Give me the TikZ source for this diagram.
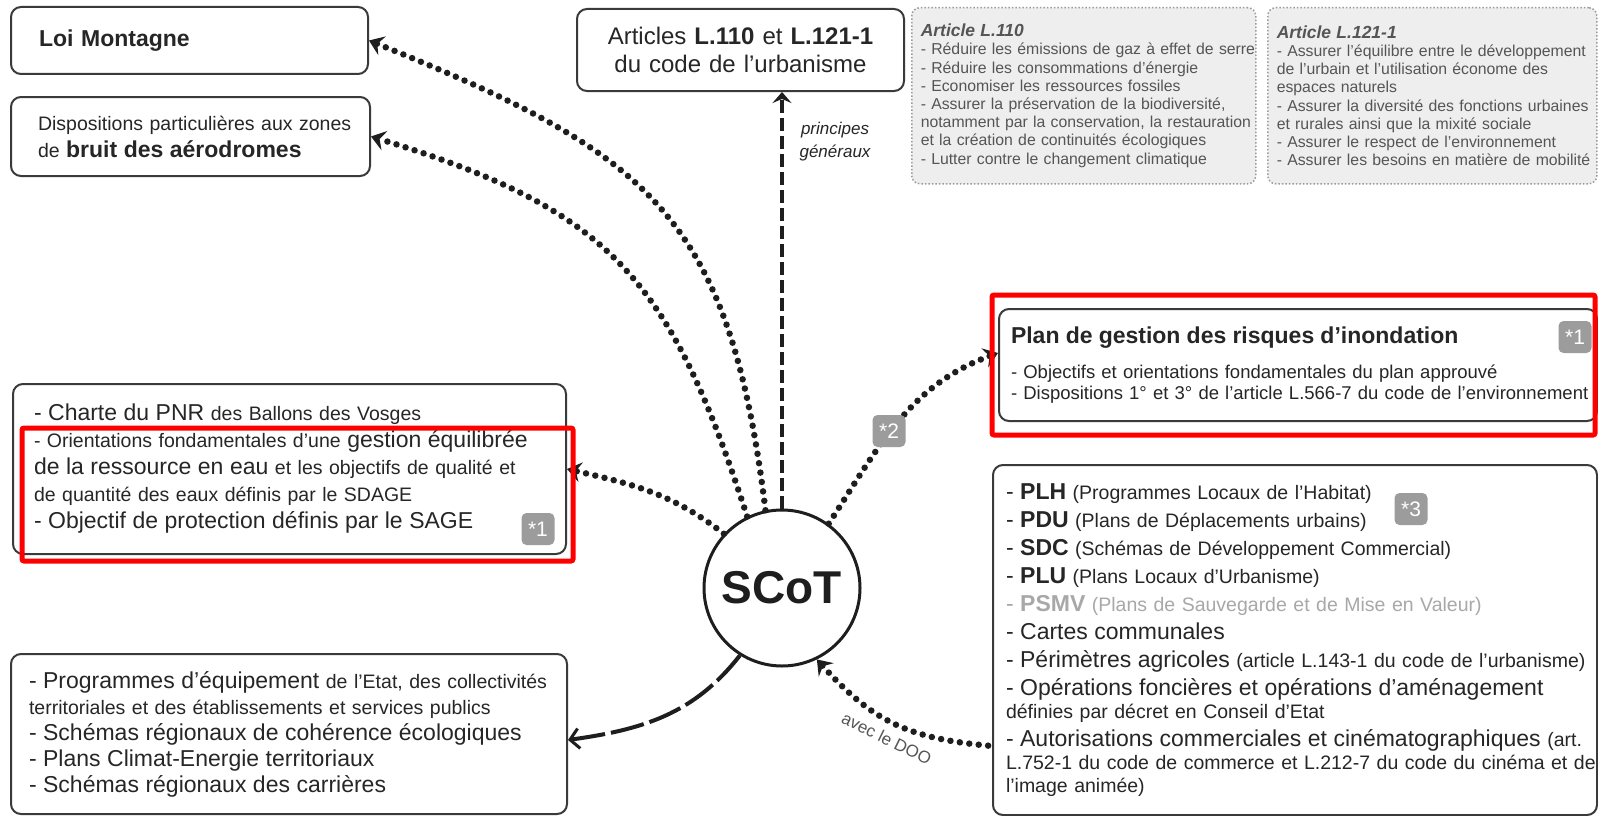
\documentclass[tikz,border=0pt]{standalone}
\usepackage{fontspec}
\setmainfont{Liberation Sans}
\usetikzlibrary{arrows.meta,positioning}

\definecolor{inkline}{HTML}{1E1E1E}
\definecolor{boxline}{HTML}{3A3A3A}
\definecolor{boxtext}{HTML}{262626}
\definecolor{notefill}{HTML}{EEEEEE}
\definecolor{noteline}{HTML}{9A9A9A}
\definecolor{notetext}{HTML}{555555}
\definecolor{badgefill}{HTML}{9C9C9C}
\definecolor{fadedtext}{HTML}{A8A8A8}
\definecolor{markred}{HTML}{FF0000}

\newcommand\szbig{\fontsize{23}{27}\selectfont}

\begin{document}
\begin{tikzpicture}[x=1pt, y=1pt,
    docbox/.style={draw=boxline, line width=2pt, rounded corners=10pt, anchor=north west, align=left, text=boxtext, inner ysep=0pt},
    notebox/.style={draw=noteline, line width=1.5pt, dash pattern=on 1.5pt off 2pt, fill=notefill, rounded corners=8pt, anchor=north west, align=left, text=notetext, inner xsep=9pt, inner ysep=0pt, font=\fontsize{15.8}{18.2}\selectfont},
    badge/.style={fill=badgefill, rounded corners=5pt, minimum width=33pt, minimum height=32pt, inner sep=0pt, text=white, font=\fontsize{21}{21}\selectfont},
    redmark/.style={draw=markred, line width=5pt, rounded corners=2pt},
    dotlink/.style={draw=inkline, line width=6.5pt, line cap=round, dash pattern=on 0pt off 9.5pt, -{Stealth[length=14pt, width=20pt, inset=5pt]}},
    dotback/.style={draw=inkline, line width=6.5pt, line cap=round, dash pattern=on 0pt off 9.5pt, {Stealth[length=14pt, width=20pt, inset=5pt]}-},
    dashlink/.style={draw=inkline, line width=4.5pt, dash pattern=on 13pt off 5pt, -{Stealth[length=11pt, width=19pt, inset=4pt]}},
    barlink/.style={draw=inkline, line width=4pt, dash pattern=on 34pt off 6pt, -{Straight Barb[length=9pt, width=20pt, line width=3pt]}}
  ]
  \path[use as bounding box, fill=white] (0,0) rectangle (1598,-816);

  % Nodes
  \node[docbox, minimum width=357pt, minimum height=67pt, inner xsep=28pt, text width=301pt, font=\fontsize{23}{26}\selectfont\bfseries] (loi) at (10,-6) {Loi Montagne};
  \node[docbox, minimum width=359pt, minimum height=79pt, inner xsep=27pt, text width=305pt, font=\fontsize{19.5}{27}\selectfont] (bruit) at (10,-96) {\mbox{Dispositions particulières aux zones}\\de {\szbig\bfseries bruit des aérodromes}};
  \node[docbox, minimum width=327pt, minimum height=82pt, inner xsep=12pt, text width=303pt, align=center, font=\fontsize{24}{28}\selectfont] (art) at (576,-8) {Articles \textbf{L.110} et \textbf{L.121-1}\\du code de l'urbanisme};

  \node[notebox, minimum width=344pt, minimum height=176pt, text width=326pt] (l110) at (911,-7) {{\fontsize{17.5}{18.2}\selectfont\bfseries\itshape Article L.110}\\\mbox{- Réduire les émissions de gaz à effet de serre}\\- Réduire les consommations d'énergie\\- Economiser les ressources fossiles\\\mbox{- Assurer la préservation de la biodiversité,}\\\mbox{notamment par la conservation, la restauration}\\\mbox{et la création de continuités écologiques}\\- Lutter contre le changement climatique};
  \node[notebox, minimum width=329pt, minimum height=176pt, text width=311pt] (l121) at (1267,-7) {{\fontsize{17.5}{18.2}\selectfont\bfseries\itshape Article L.121-1}\\\mbox{- Assurer l'équilibre entre le développement}\\\mbox{de l'urbain et l'utilisation économe des}\\espaces naturels\\\mbox{- Assurer la diversité des fonctions urbaines}\\\mbox{et rurales ainsi que la mixité sociale}\\\mbox{- Assurer le respect de l'environnement}\\\mbox{- Assurer les besoins en matière de mobilité}};

  \node[docbox, minimum width=598pt, minimum height=112pt, inner xsep=12pt, text width=574pt, font=\fontsize{18.5}{21.5}\selectfont] (pgri) at (998,-308) {{\szbig\bfseries Plan de gestion des risques d'inondation}\\[13.5pt]- Objectifs et orientations fondamentales du plan approuvé\\\mbox{- Dispositions 1° et 3° de l'article L.566-7 du code de l'environnement}};

  \node[docbox, minimum width=553pt, minimum height=170pt, inner xsep=21pt, text width=511pt, font=\fontsize{19.5}{27}\selectfont] (eau) at (12,-383) {{\szbig - Charte du PNR} des Ballons des Vosges\\\mbox{- Orientations fondamentales d'une {\szbig gestion équilibrée}}\\{\szbig de la ressource en eau} et les objectifs de qualité et\\de quantité des eaux définis par le SDAGE\\{\szbig - Objectif de protection définis par le SAGE}};

  \node[docbox, minimum width=556pt, minimum height=160pt, inner xsep=18pt, text width=520pt, font=\fontsize{19.5}{26}\selectfont] (equip) at (10,-653) {\mbox{{\szbig - Programmes d'équipement} de l'Etat, des collectivités}\\territoriales et des établissements et services publics\\{\szbig - Schémas régionaux de cohérence écologiques}\\{\szbig - Plans Climat-Energie territoriaux}\\{\szbig - Schémas régionaux des carrières}};

  \node[docbox, minimum width=604pt, minimum height=350pt, inner xsep=13pt, text width=578pt, font=\fontsize{19.5}{28}\selectfont] (plans) at (992,-464) {{\szbig - \textbf{PLH}} (Programmes Locaux de l'Habitat)\\{\szbig - \textbf{PDU}} (Plans de Déplacements urbains)\\{\szbig - \textbf{SDC}} (Schémas de Développement Commercial)\\{\szbig - \textbf{PLU}} (Plans Locaux d'Urbanisme)\\{\color{fadedtext}{\szbig - \textbf{PSMV}} (Plans de Sauvegarde et de Mise en Valeur)}\\{\szbig - Cartes communales}\\\mbox{{\szbig - Périmètres agricoles} (article L.143-1 du code de l'urbanisme)}\\{\szbig - Opérations foncières et opérations d'aménagement}\\[-5pt]définies par décret en Conseil d'Etat\\\mbox{{\szbig - Autorisations commerciales et cinématographiques} (art.}\\[-5pt]\mbox{L.752-1 du code de commerce et L.212-7 du code du cinéma et de}\\[-5pt]l'image animée)};

  \node[circle, draw=inkline, line width=3pt, minimum size=156pt, inner sep=0pt, text=inkline, font=\fontsize{46}{46}\selectfont\bfseries] (scot) at (782,-588) {SCoT};

  % Links
  \draw[dotlink] (scot.102) to[out=97, in=-22, looseness=1.25] (loi.east);
  \draw[dotlink] (scot.116) to[out=108, in=-17, looseness=1.2] (bruit.east);
  \draw[dotlink] (scot.137) to[out=142, in=-13] (eau.east);
  \draw[dashlink] (scot.north) -- (scot.north |- art.south) node[pos=0.88, right=12pt, align=center, text=boxtext, font=\fontsize{17}{23}\selectfont\itshape] (gen) {principes\\généraux};
  \draw[dotlink] (scot.54) to[out=57, in=200] ([yshift=12pt]pgri.west);
  \draw[barlink] (scot.238) to[out=232, in=8] ([yshift=-6pt]equip.east);
  \draw[dotback] (scot.296) to[out=-48, in=175, looseness=1.1] node[pos=0.5, sloped, below=4pt, text=notetext, font=\fontsize{17}{17}\selectfont] (doo) {avec le DOO} ([yshift=-106pt]plans.west);

  % Badges
  \node[badge] (b1) at (538,-529) {*1};
  \node[badge] (b2) at (889,-431) {*2};
  \node[badge] (b3) at (1411,-509) {*3};
  \node[badge] (b4) at (1575,-337) {*1};

  % Red marks
  \draw[redmark] (22,-428) rectangle (573,-561);
  \draw[redmark] (992,-295) rectangle (1595,-435);
\end{tikzpicture}
\end{document}
